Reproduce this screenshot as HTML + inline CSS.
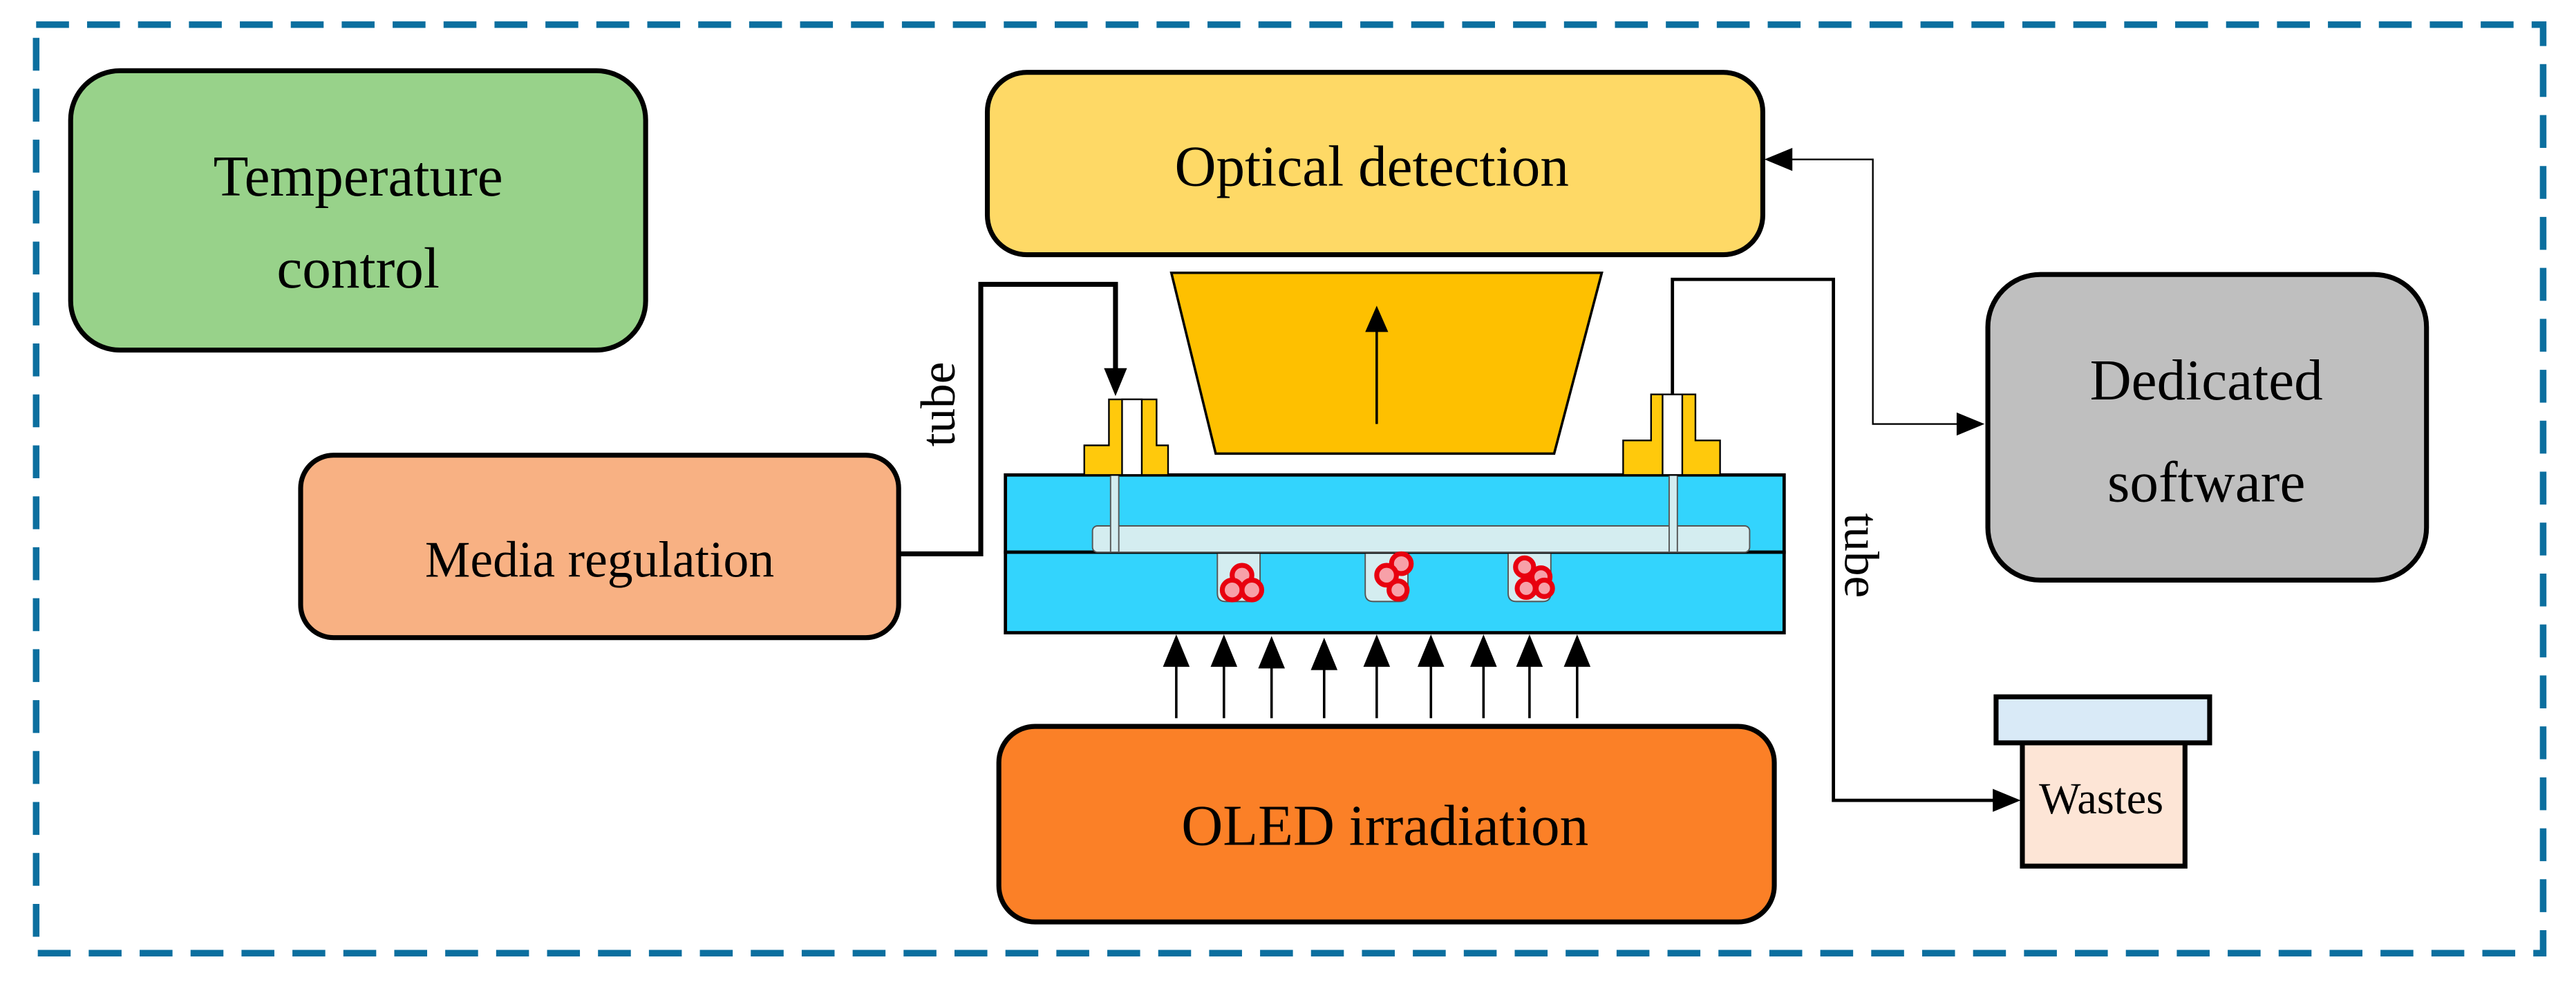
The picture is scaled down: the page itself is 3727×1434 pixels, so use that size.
<!DOCTYPE html>
<html><head><meta charset="utf-8"><style>html,body{margin:0;padding:0;background:#fff}svg{display:block}</style></head>
<body>
<svg width="3727" height="1434" viewBox="0 0 1568 603" preserveAspectRatio="none" xmlns="http://www.w3.org/2000/svg" font-family="'Liberation Serif', serif">
<rect width="1568" height="603" fill="#fff"/>
<rect x="22" y="15" width="1526" height="565" fill="none" stroke="#0b6f9f" stroke-width="4" stroke-dasharray="20,11"/>

<!-- Temperature -->
<rect x="43" y="43" width="350" height="170" rx="30" fill="#98d28a" stroke="#000" stroke-width="3"/>
<text x="218" y="119" font-size="35" text-anchor="middle">Temperature</text>
<text x="218" y="175" font-size="35" text-anchor="middle">control</text>

<!-- Optical detection -->
<rect x="601" y="44" width="472" height="111" rx="24" fill="#fed966" stroke="#000" stroke-width="3"/>
<text x="835" y="113" font-size="35" text-anchor="middle">Optical detection</text>

<!-- Trapezoid -->
<polygon points="713,166 975,166 946,276 740,276" fill="#fec000" stroke="#000" stroke-width="1.5"/>
<line x1="838" y1="258" x2="838" y2="200" stroke="#000" stroke-width="1.5"/>
<polygon points="838,186 831,202 845,202" fill="#000"/>

<!-- Dedicated software -->
<rect x="1210" y="167" width="267" height="186" rx="32" fill="#bfbfbf" stroke="#000" stroke-width="3"/>
<text x="1343" y="243" font-size="35" text-anchor="middle">Dedicated</text>
<text x="1343" y="305" font-size="35" text-anchor="middle">software</text>

<!-- Media regulation -->
<rect x="183" y="277" width="364" height="111" rx="20" fill="#f8b183" stroke="#000" stroke-width="3"/>
<text x="365" y="351" font-size="31" text-anchor="middle">Media regulation</text>

<!-- OLED -->
<rect x="608" y="442" width="472" height="119" rx="22" fill="#fb8027" stroke="#000" stroke-width="3"/>
<text x="843" y="514" font-size="35" text-anchor="middle">OLED irradiation</text>

<!-- chip -->
<rect x="612" y="289" width="474" height="47" fill="#33d4fd" stroke="#000" stroke-width="2"/>
<rect x="612" y="336" width="474" height="49" fill="#33d4fd" stroke="#000" stroke-width="2"/>
<rect x="665" y="320" width="400" height="16" rx="3" fill="#d4edf0" stroke="#555" stroke-width="0.8"/>
<rect x="676" y="289" width="5" height="47" fill="#d4edf0" stroke="#555" stroke-width="0.8"/>
<rect x="1016" y="289" width="5" height="47" fill="#d4edf0" stroke="#555" stroke-width="0.8"/>
<g fill="#d4edf0" stroke="#555" stroke-width="0.8">
<path d="M741,337 V361 Q741,366 746,366 H762 Q767,366 767,361 V337"/>
<path d="M831,337 V361 Q831,366 836,366 H852 Q857,366 857,361 V337"/>
<path d="M918,337 V361 Q918,366 923,366 H939 Q944,366 944,361 V337"/>
</g>
<g fill="#f7a0a8" stroke="#e8000f" stroke-width="3">
<circle cx="756" cy="350" r="6"/><circle cx="750" cy="359" r="6"/><circle cx="762" cy="359" r="6"/>
<circle cx="853" cy="343" r="6"/><circle cx="844" cy="350" r="6"/><circle cx="851" cy="359" r="5.5"/>
<circle cx="928" cy="345" r="5.5"/><circle cx="938" cy="351" r="5.5"/><circle cx="929" cy="358" r="5.5"/><circle cx="940" cy="358" r="5"/>
</g>

<!-- connectors -->
<path d="M675,243 H704 V271 H711 V289 H660 V271 H675 Z" fill="#ffc90c" stroke="#000" stroke-width="1"/>
<rect x="683" y="243" width="12" height="46" fill="#fff" stroke="#000" stroke-width="1"/>
<path d="M1005,240 H1032 V268 H1047 V289 H988 V268 H1005 Z" fill="#ffc90c" stroke="#000" stroke-width="1"/>
<rect x="1012" y="240" width="12" height="49" fill="#fff" stroke="#000" stroke-width="1"/>

<!-- left tube -->
<polyline points="547,337 597,337 597,173 679,173 679,226" fill="none" stroke="#000" stroke-width="3"/>
<polygon points="679,241 672,224 686,224" fill="#000"/>
<text transform="translate(581,246) rotate(-90)" font-size="30" text-anchor="middle">tube</text>

<!-- right tube -->
<polyline points="1018,240 1018,170 1116,170 1116,487 1214,487" fill="none" stroke="#000" stroke-width="2"/>
<polygon points="1230,487 1213,480 1213,494" fill="#000"/>
<text transform="translate(1123,338) rotate(90)" font-size="30" text-anchor="middle">tube</text>

<!-- optical-software -->
<polyline points="1090,97 1140,97 1140,258 1192,258" fill="none" stroke="#000" stroke-width="1"/>
<polygon points="1074,97 1091,90 1091,104" fill="#000"/>
<polygon points="1208,258 1191,251 1191,265" fill="#000"/>

<!-- up arrows -->
<g stroke="#000" stroke-width="1.5" fill="#000">
<line x1="716" y1="404" x2="716" y2="437"/><polygon points="716,388 709,405 723,405"/>
<line x1="745" y1="404" x2="745" y2="437"/><polygon points="745,388 738,405 752,405"/>
<line x1="774" y1="404" x2="774" y2="437"/><polygon points="774,389 767,406 781,406"/>
<line x1="806" y1="406" x2="806" y2="437"/><polygon points="806,390 799,407 813,407"/>
<line x1="838" y1="404" x2="838" y2="437"/><polygon points="838,388 831,405 845,405"/>
<line x1="871" y1="404" x2="871" y2="437"/><polygon points="871,388 864,405 878,405"/>
<line x1="903" y1="404" x2="903" y2="437"/><polygon points="903,388 896,405 910,405"/>
<line x1="931" y1="404" x2="931" y2="437"/><polygon points="931,388 924,405 938,405"/>
<line x1="960" y1="404" x2="960" y2="437"/><polygon points="960,388 953,405 967,405"/>
</g>

<!-- wastes -->
<rect x="1231" y="451" width="99" height="76" fill="#fde5d6" stroke="#000" stroke-width="3"/>
<rect x="1215" y="424" width="130" height="28" fill="#d9eaf7" stroke="#000" stroke-width="3"/>
<text x="1279" y="495" font-size="27" text-anchor="middle">Wastes</text>
</svg>
</body></html>
